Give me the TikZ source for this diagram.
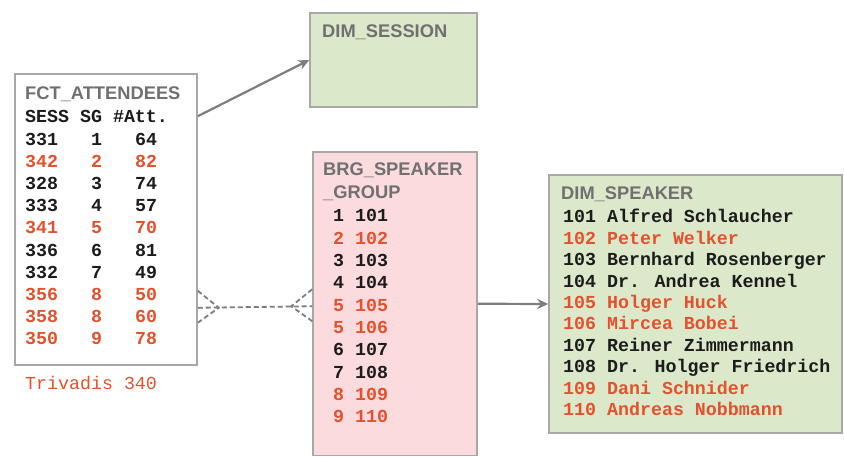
\documentclass[tikz,border=0pt]{standalone}
\usepackage{fontspec}
\setmainfont{Liberation Sans}
\newfontfamily\monof{Liberation Mono}
\usetikzlibrary{arrows.meta}
\definecolor{hdr}{RGB}{112,112,112}
\definecolor{hot}{RGB}{226,82,44}
\definecolor{ink}{RGB}{28,28,28}
\definecolor{frame}{RGB}{168,168,168}
\definecolor{link}{RGB}{125,125,125}
\definecolor{dimfill}{RGB}{220,232,202}
\definecolor{brgfill}{RGB}{251,219,222}
\begin{document}
\begin{tikzpicture}[x=1pt,y=-1pt,
  tbl/.style={draw=frame, line width=1.5pt, inner sep=0pt},
  title/.style={anchor=base west, inner sep=0pt, font=\fontsize{18.3}{18}\selectfont\bfseries, text=hdr},
  row/.style={anchor=base west, inner sep=0pt, font=\fontsize{18.3}{18}\monof\bfseries, text=ink},
  rel/.style={draw=link, line width=2.2pt, -{Stealth[length=11pt,width=10pt]}},
  crow/.style={draw=link, line width=1.8pt, dash pattern=on 5pt off 3pt}
]
\useasboundingbox (0,0) rectangle (844,457);

% tables
\node[tbl, fill=white, minimum width=182pt, minimum height=291pt] (fct) at (106,219.5) {};
\node[tbl, fill=dimfill, minimum width=167pt, minimum height=94pt] (ses) at (393.5,60) {};
\node[tbl, fill=brgfill, minimum width=164pt, minimum height=303.5pt] (brg) at (395,303.75) {};
\node[tbl, fill=dimfill, minimum width=293pt, minimum height=258pt] (spk) at (695.5,304) {};

% table titles
\node[title] (tfct) at (25,99.5) {FCT\_ATTENDEES};
\node[title] (tses) at (322,37.5) {DIM\_SESSION};
\node[title] (tbrg1) at (323,175.5) {BRG\_SPEAKER};
\node[title] (tbrg2) at (323,198.5) {\_GROUP};
\node[title] (tspk) at (561,199.5) {DIM\_SPEAKER};

% fact rows
\node[row] (fhead) at (25,123) {SESS SG \#Att.};
\foreach \s/\g/\a/\c [count=\i] in {331/1/64/ink,342/2/82/hot,328/3/74/ink,333/4/57/ink,341/5/70/hot,336/6/81/ink,332/7/49/ink,356/8/50/hot,358/8/60/hot,350/9/78/hot}{
  \node[row, text=\c] (fs\i) at (25,{123+22.2*\i}) {\s};
  \node[row, text=\c] (fg\i) at (91,{123+22.2*\i}) {\g};
  \node[row, text=\c] (fa\i) at (135,{123+22.2*\i}) {\a};
}
\node[row, text=hot, font=\fontsize{18.3}{18}\monof] (trv) at (25,389) {Trivadis 340};

% bridge rows
\foreach \g/\k/\c [count=\i] in {1/101/ink,2/102/hot,3/103/ink,4/104/ink,5/105/hot,5/106/hot,6/107/ink,7/108/ink,8/109/hot,9/110/hot}{
  \node[row, text=\c] (b\i) at (333,{222+22.3*(\i-1)}) {\g\ \k};
}

% speaker rows
\foreach \t/\c [count=\i] in {101 Alfred Schlaucher/ink,102 Peter Welker/hot,103 Bernhard Rosenberger/ink,104 Dr. Andrea Kennel/ink,105 Holger Huck/hot,106 Mircea Bobei/hot,107 Reiner Zimmermann/ink,108 Dr. Holger Friedrich/ink,109 Dani Schnider/hot,110 Andreas Nobbmann/hot}{
  \node[row, text=\c] (s\i) at (563,{223+21.4*(\i-1)}) {\t};
}

% relationships
\path (fct.north east) ++(0,43) coordinate (fses);
\draw[rel] (fses) -- (ses.west);

\path (fct.south east) ++(0,-58) coordinate (dl);
\path (brg.north west) ++(0,155) coordinate (dr);
\draw[crow] (dl) -- (dr);
\draw[crow] (dl) ++(0,-17) -- ++(21,17) -- ++(-21,15);
\draw[crow] (dr) ++(0,-17) -- ++(-21,17) -- ++(21,15);

\draw[rel] (brg.east) -- (spk.west);
\end{tikzpicture}
\end{document}
